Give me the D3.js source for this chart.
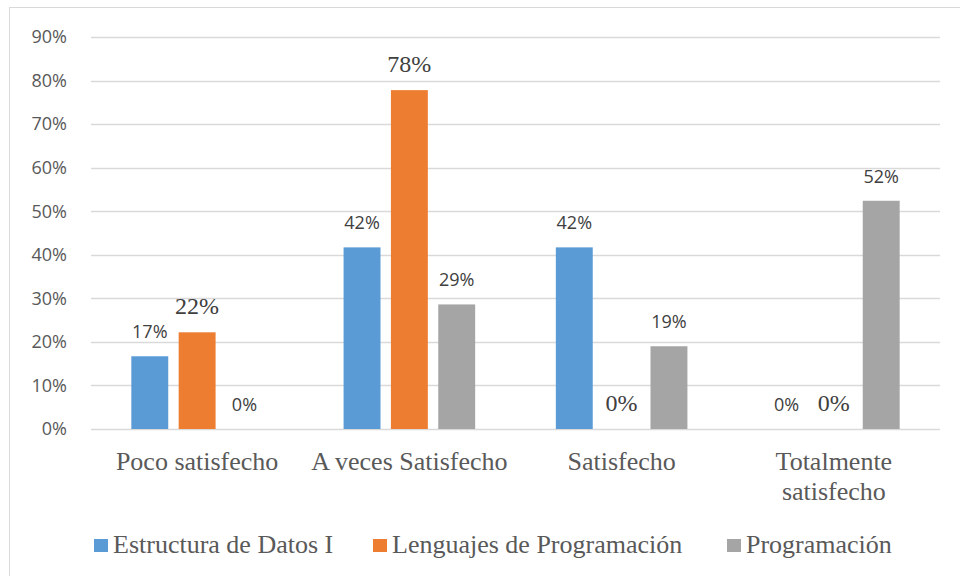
<!DOCTYPE html>
<html>
<head>
<meta charset="utf-8">
<script src="https://cdn.jsdelivr.net/npm/d3@7"></script>
<style>
  body { margin: 0; background: #fff; }
</style>
</head>
<body>
<div id="chart"></div>
<script>
var categories = ["Poco satisfecho", "A veces Satisfecho", "Satisfecho", "Totalmente satisfecho"];
var seriesNames = ["Estructura de Datos I", "Lenguajes de Programación", "Programación"];
var estructura = [0.167, 0.417, 0.417, 0];
var lenguajes = [0.222, 0.778, 0, 0];
var programacion = [0, 0.286, 0.190, 0.524];
var yTicks = [0, 0.1, 0.2, 0.3, 0.4, 0.5, 0.6, 0.7, 0.8, 0.9];

var width = 960, height = 576;
var colors = ["#5b9bd5", "#ed7d31", "#a5a5a5"];
// orange labels come out in a serif face in the original, the others in sans
var labelFonts = ["'Open Sans', sans-serif", "'Liberation Serif', serif", "'Open Sans', sans-serif"];
var labelSizes = ["18px", "24px", "18px"];

var svg = d3.select("#chart").append("svg")
    .attr("width", width)
    .attr("height", height);

svg.append("rect")
    .attr("x", 9.5).attr("y", 7.5)
    .attr("width", 960).attr("height", 600)
    .attr("fill", "none")
    .attr("stroke", "#d9d9d9");

var plot = {left: 91, right: 940, top: 37, bottom: 429};

var x0 = d3.scaleBand()
    .domain(categories)
    .range([plot.left, plot.right])
    .paddingInner(0.38)
    .paddingOuter(0.19);

var x1 = d3.scaleBand()
    .domain(seriesNames)
    .range([0, x0.bandwidth()])
    .paddingInner(0.22);

var y = d3.scaleLinear()
    .domain([0, 0.9])
    .range([plot.bottom, plot.top]);

var data = categories.map(function(c, i) {
  return { cat: c, values: [estructura[i], lenguajes[i], programacion[i]] };
});

// gridlines
svg.append("g").selectAll("line")
    .data(yTicks)
    .enter().append("line")
      .attr("x1", plot.left).attr("x2", plot.right)
      .attr("y1", function(d) { return Math.round(y(d)) + 0.5; })
      .attr("y2", function(d) { return Math.round(y(d)) + 0.5; })
      .attr("stroke", "#d9d9d9")
      .attr("stroke-width", 1.3);

// y tick labels
svg.append("g").selectAll("text")
    .data(yTicks)
    .enter().append("text")
      .attr("x", 67)
      .attr("y", function(d) { return y(d); })
      .attr("dy", "0.35em")
      .attr("text-anchor", "end")
      .attr("fill", "#595959")
      .style("font", "18px 'Open Sans', sans-serif")
      .text(d3.format(".0%"));

var groups = svg.selectAll(".grp")
    .data(data)
    .enter().append("g")
      .attr("class", "grp")
      .attr("transform", function(d) { return "translate(" + x0(d.cat) + ",0)"; });

groups.selectAll("rect")
    .data(function(d) { return d.values; })
    .enter().append("rect")
      .attr("x", function(d, i) { return x1(seriesNames[i]); })
      .attr("y", function(d) { return y(d); })
      .attr("width", x1.bandwidth())
      .attr("height", function(d) { return plot.bottom - y(d); })
      .attr("fill", function(d, i) { return colors[i]; });

groups.selectAll("text")
    .data(function(d) { return d.values; })
    .enter().append("text")
      .attr("x", function(d, i) { return x1(seriesNames[i]) + x1.bandwidth() / 2; })
      .attr("y", function(d) { return y(d) - 18; })
      .attr("text-anchor", "middle")
      .attr("fill", "#404040")
      .style("font-family", function(d, i) { return labelFonts[i]; })
      .style("font-size", function(d, i) { return labelSizes[i]; })
      .text(d3.format(".0%"));

// category labels
var catLines = {
  "Totalmente satisfecho": ["Totalmente", "satisfecho"]
};
svg.append("g").selectAll("text")
    .data(categories)
    .enter().append("text")
      .attr("x", function(d) { return x0(d) + x0.bandwidth() / 2; })
      .attr("y", 470)
      .attr("text-anchor", "middle")
      .attr("fill", "#595959")
      .style("font", "26px 'Liberation Serif', serif")
      .each(function(d) {
        var lines = catLines[d] || [d];
        var t = d3.select(this);
        lines.forEach(function(l, i) {
          t.append("tspan")
            .attr("x", x0(d) + x0.bandwidth() / 2)
            .attr("dy", i === 0 ? 0 : 30)
            .text(l);
        });
      });

// legend
var legendX = [94, 373, 727];
var legend = svg.append("g").selectAll("g")
    .data(seriesNames)
    .enter().append("g")
      .attr("transform", function(d, i) { return "translate(" + legendX[i] + ",539)"; });

legend.append("rect")
    .attr("width", 14).attr("height", 13)
    .attr("fill", function(d, i) { return colors[i]; });

legend.append("text")
    .attr("x", 19)
    .attr("y", 14)
    .attr("fill", "#595959")
    .style("font", "26px 'Liberation Serif', serif")
    .text(function(d) { return d; });
</script>
</body>
</html>
